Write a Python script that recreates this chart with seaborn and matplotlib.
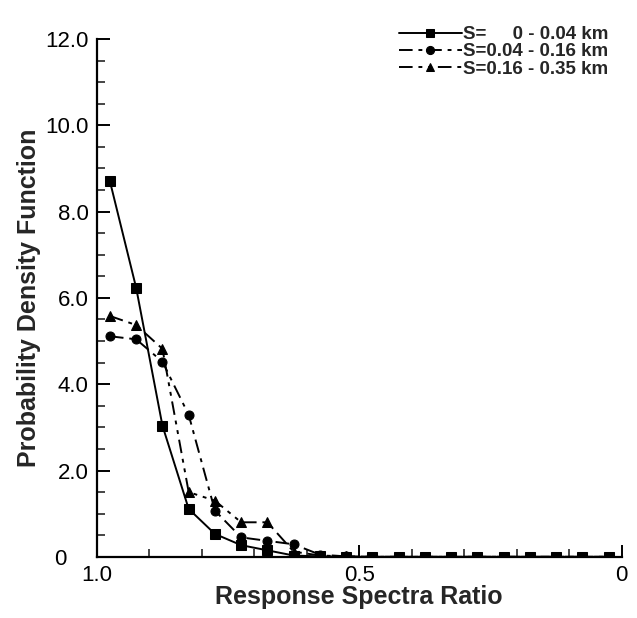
import numpy as np
import pandas as pd
import matplotlib
matplotlib.use("Agg")
import matplotlib.pyplot as plt
import matplotlib.transforms as mtransforms
import seaborn as sns
from matplotlib.ticker import MultipleLocator, FixedLocator

# ---- data ----
ratio = [0.975, 0.925, 0.875, 0.825, 0.775, 0.725, 0.675, 0.625, 0.575, 0.525,
         0.475, 0.425, 0.375, 0.325, 0.275, 0.225, 0.175, 0.125, 0.075, 0.025]
pdf_s1 = [8.70, 6.23, 3.04, 1.11, 0.53, 0.27, 0.15, 0.03, 0.01, 0.0,
          0.0, 0.0, 0.0, 0.0, 0.0, 0.0, 0.0, 0.0, 0.0, 0.0]
pdf_s2 = [5.11, 5.04, 4.52, 3.29, 1.07, 0.45, 0.37, 0.29, 0.05, 0.01,
          0.0, 0.0, 0.0, 0.0, 0.0, 0.0, 0.0, 0.0, 0.0, 0.0]
pdf_s3 = [5.58, 5.37, 4.82, 1.50, 1.30, 0.80, 0.80, 0.12, 0.03, 0.01,
          0.0, 0.0, 0.0, 0.0, 0.0, 0.0, 0.0, 0.0, 0.0, 0.0]
labels = ["S=     0 - 0.04 km", "S=0.04 - 0.16 km", "S=0.16 - 0.35 km"]
x_ticks = [1.0, 0.5, 0.0]
x_ticklabels = ["1.0", "0.5", "0"]
y_ticks = [0, 2, 4, 6, 8, 10, 12]
y_ticklabels = ["0", "2.0", "4.0", "6.0", "8.0", "10.0", "12.0"]

sns.set_theme(style="ticks")
plt.rcParams['font.family'] = ['Liberation Sans', 'DejaVu Sans']

fig = plt.figure(figsize=(6.37, 6.18), dpi=100)
ax = fig.add_axes([0.152, 0.099, 0.824, 0.838])

styles = [
    dict(marker="s", linestyle="-"),
    dict(marker="o", linestyle=(0, (7, 3, 2, 3))),
    dict(marker="^", linestyle=(0, (7, 3, 2, 3, 2, 3))),
]
for vals, lab, st in zip([pdf_s1, pdf_s2, pdf_s3], labels, styles):
    df = pd.DataFrame({"x": ratio, "y": vals})
    sns.lineplot(data=df, x="x", y="y", ax=ax, color="black", linewidth=1.4,
                 marker=st["marker"], markersize=6.5, markeredgecolor="black",
                 linestyle=st["linestyle"], label=lab, sort=False)

ax.set_xlim(1.0, 0.0)
ax.set_ylim(0, 12)
ax.xaxis.set_major_locator(FixedLocator(x_ticks))
ax.set_xticklabels(x_ticklabels)
ax.xaxis.set_minor_locator(MultipleLocator(0.1))
ax.yaxis.set_major_locator(FixedLocator(y_ticks))
ax.set_yticklabels(y_ticklabels)
ax.yaxis.set_minor_locator(MultipleLocator(0.5))

ax.tick_params(axis="both", which="major", direction="in", length=9, width=1.4,
               labelsize=16, pad=6, colors="black")
ax.tick_params(axis="both", which="minor", direction="in", length=6, width=1.2)

# the y "0" label sits further left in the reference
ylabs = ax.get_yticklabels()
ylabs[0].set_transform(ylabs[0].get_transform() +
                       mtransforms.ScaledTranslation(-22 / 100, 0, fig.dpi_scale_trans))

for side in ["top", "right"]:
    ax.spines[side].set_visible(False)
for side in ["left", "bottom"]:
    ax.spines[side].set_linewidth(1.6)
    ax.spines[side].set_color("black")

ax.set_xlabel("Response Spectra Ratio", fontsize=18, fontweight="bold", labelpad=-1)
ax.set_ylabel("Probability Density Function", fontsize=18, fontweight="bold", labelpad=3)

leg = ax.legend(loc="upper right", bbox_to_anchor=(1.0, 1.05), frameon=False,
                handlelength=3.4, handletextpad=0.05, labelspacing=0.0,
                prop=dict(size=13.5, weight="bold"), markerscale=0.9,
                borderaxespad=0.3)

fig.savefig("out.png", dpi=100)
